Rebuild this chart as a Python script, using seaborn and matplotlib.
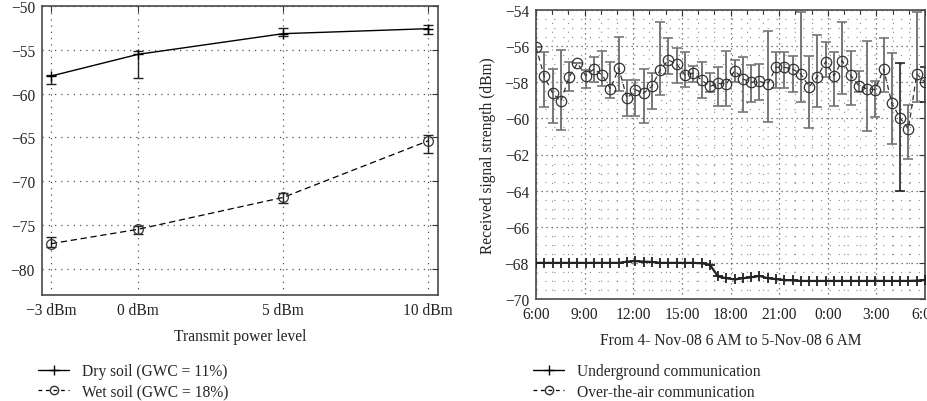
import numpy as np
import pandas as pd
import matplotlib
matplotlib.use("Agg")
import matplotlib.pyplot as plt
import seaborn as sns
from matplotlib.ticker import MultipleLocator
from matplotlib.lines import Line2D

# ---------------- data: left panel ----------------
power = [-3, 0, 5, 10]
power_labels = ["\u22123 dBm", "0 dBm", "5 dBm", "10 dBm"]
dry = [-58.0, -55.52, -53.16, -52.59]
dry_hi = [-57.83, -55.17, -52.47, -52.2]
dry_lo = [-58.86, -58.18, -53.47, -53.16]
wet = [-77.14, -75.5, -71.86, -65.4]
wet_hi = [-76.42, -75.13, -71.4, -64.75]
wet_lo = [-77.48, -76.04, -72.46, -66.84]

# ---------------- data: right panel ----------------
hour_ticks = [0, 3, 6, 9, 12, 15, 18, 21, 24]
hour_labels = ["6:00", "9:00", "12:00", "15:00", "18:00", "21:00", "0:00", "3:00", "6:00"]
n_samples = 48
hours = np.linspace(0, 24, n_samples)  # sample times, hours after 6:00

underground = [-68.0, -68.0, -68.0, -68.0, -68.0, -68.0, -68.0, -68.0, -68.0, -68.0, -68.0,
               -67.93, -67.9, -67.93, -67.95,
               -68.0, -68.0, -68.0, -68.0, -68.0, -68.02,
               -68.1, -68.75, -68.85, -68.92, -68.85, -68.8, -68.72, -68.85, -68.9, -68.95, -68.97,
               -69.0, -69.0, -69.0, -69.0, -69.0, -69.0, -69.0, -69.0,
               -69.0, -69.0, -69.0, -69.0, -69.0, -69.0, -68.98, -68.95]

ota = [-56.07, -57.67, -58.6, -59.06, -57.71, -56.95, -57.63, -57.27, -57.6, -58.37, -57.23, -58.89, -58.41, -58.61, -58.23, -57.31,
       -56.77, -56.99, -57.6, -57.49, -57.88, -58.23, -58.06, -58.1, -57.36, -57.82, -58.0, -57.95, -58.1, -57.17, -57.17, -57.27,
       -57.54, -58.25, -57.69, -56.86, -57.64, -56.8, -57.6, -58.19, -58.37, -58.41, -57.27, -59.17, -59.98, -60.59, -57.54, -58.0]
ota_hi = [-56.07, -56.34, -57.27, -56.2, -56.9, -56.95, -57.32, -56.58, -56.25, -56.86, -55.48, -57.88, -57.88, -57.27, -57.49, -54.64,
          -55.55, -56.1, -56.3, -57.08, -56.86, -57.49, -57.17, -56.25, -56.77, -56.62, -57.05, -56.97, -55.18, -56.34, -56.34, -56.56,
          -54.13, -56.56, -55.38, -55.75, -56.3, -54.65, -56.25, -57.4, -55.73, -57.91, -55.57, -56.38, -56.95, -59.26, -54.13, -57.17]
ota_lo = [-56.07, -59.35, -60.27, -60.63, -58.47, -56.95, -58.34, -57.97, -58.23, -58.86, -58.47, -59.85, -59.85, -60.28, -59.48, -58.68,
          -57.54, -58.06, -58.26, -58.0, -58.86, -58.52, -59.3, -59.3, -57.97, -59.67, -59.08, -59.0, -60.22, -58.34, -58.34, -58.56,
          -59.11, -60.55, -59.39, -57.73, -59.33, -58.65, -59.24, -58.52, -60.72, -59.94, -58.56, -61.42, -64.0, -62.25, -59.11, -59.11]
black_bar_idx = [44, 47]

left_df = pd.DataFrame({"power": power, "dry": dry, "wet": wet})
right_df = pd.DataFrame({"hours": hours, "underground": underground, "ota": ota})

# ---------------- style ----------------
sns.set_theme(style="white")
plt.rcParams['font.family'] = ['Liberation Serif', 'DejaVu Serif']
plt.rcParams['axes.unicode_minus'] = True
FS = 11.2
SPINE = "#4a4a4a"

fig = plt.figure(figsize=(9.27, 4.02), dpi=100)
ax1 = fig.add_axes([42 / 927, 106 / 402, 396 / 927, 289 / 402])
ax2 = fig.add_axes([536 / 927, 102 / 402, 389 / 927, 289 / 402])

for ax in (ax1, ax2):
    for s in ax.spines.values():
        s.set_color(SPINE)
        s.set_linewidth(1.2)
    ax.tick_params(which="both", direction="in", top=True, right=True,
                   colors="#333333", labelcolor="#222222", labelsize=FS, pad=5)
    ax.tick_params(which="major", length=4, width=0.8)
    ax.tick_params(which="minor", length=3, width=0.8)

# ---------------- left panel ----------------
sns.lineplot(data=left_df, x="power", y="dry", ax=ax1, color="black", lw=1.0,
             marker="+", markersize=7, mew=1.0, mec="black", zorder=4)
sns.lineplot(data=left_df, x="power", y="wet", ax=ax1, color="black", lw=0.9,
             linestyle=(0, (5, 3)), marker="o", markersize=7, mfc="none",
             mec="#333333", mew=0.9, zorder=4)
ax1.errorbar(power, dry, yerr=[np.array(dry) - np.array(dry_lo), np.array(dry_hi) - np.array(dry)],
             fmt="none", ecolor="#222222", elinewidth=1.0, capsize=3.5, capthick=1.0, zorder=3)
ax1.errorbar(power, wet, yerr=[np.array(wet) - np.array(wet_lo), np.array(wet_hi) - np.array(wet)],
             fmt="none", ecolor="#222222", elinewidth=1.0, capsize=3.5, capthick=1.0, zorder=3)

ax1.set_xlim(-3.31, 10.34)
ax1.set_ylim(-83, -50)
ax1.set_xticks(power)
ax1.set_xticklabels(power_labels)
ax1.yaxis.set_major_locator(MultipleLocator(5))
ax1.grid(True, which="major", color="#555555", linestyle=(0, (1, 4)), linewidth=0.9)
ax1.set_xlabel("Transmit power level", fontsize=FS, color="#222222", labelpad=7)
ax1.set_ylabel("")

h_dry = Line2D([], [], color="black", lw=1.0, marker="+", markersize=7, mew=1.0)
h_wet = Line2D([], [], color="black", lw=0.9, linestyle=(0, (3, 3)), marker="o",
               markersize=6, mfc="none", mec="#333333")
ax1.legend([h_dry, h_wet], ["Dry soil (GWC = 11%)", "Wet soil (GWC = 18%)"],
           loc="upper left", bbox_to_anchor=(38 / 927, 1 - 364 / 402),
           bbox_transform=fig.transFigure, frameon=False, fontsize=FS,
           handlelength=2.0, handletextpad=0.8, labelspacing=0.3, borderpad=0,
           borderaxespad=0)

# ---------------- right panel ----------------
gray_idx = [i for i in range(n_samples) if i not in black_bar_idx]
o = np.array(ota); hi = np.array(ota_hi); lo = np.array(ota_lo)
ax2.errorbar(hours[gray_idx], o[gray_idx], yerr=[o[gray_idx] - lo[gray_idx], hi[gray_idx] - o[gray_idx]],
             fmt="none", ecolor="#777777", elinewidth=1.4, capsize=3.5, capthick=1.2, zorder=2)
ax2.errorbar(hours[black_bar_idx], o[black_bar_idx],
             yerr=[o[black_bar_idx] - lo[black_bar_idx], hi[black_bar_idx] - o[black_bar_idx]],
             fmt="none", ecolor="#111111", elinewidth=1.1, capsize=3.5, capthick=1.1, zorder=2)
sns.lineplot(data=right_df, x="hours", y="ota", ax=ax2, color="#333333", lw=0.9,
             linestyle=(0, (4, 3)), marker="o", markersize=7.5, mfc="none",
             mec="#333333", mew=0.9, zorder=4)
sns.lineplot(data=right_df, x="hours", y="underground", ax=ax2, color="#222222", lw=1.6,
             marker="+", markersize=7, mew=1.3, mec="#222222", zorder=4)

ax2.set_xlim(0, 24)
ax2.set_ylim(-70, -54)
ax2.set_xticks(hour_ticks)
ax2.set_xticklabels(hour_labels)
ax2.xaxis.set_minor_locator(MultipleLocator(1))
ax2.yaxis.set_major_locator(MultipleLocator(2))
ax2.yaxis.set_minor_locator(MultipleLocator(0.5))
ax2.tick_params(axis="y", which="minor", length=0)
ax2.grid(True, which="major", color="#555555", linestyle=(0, (1, 3)), linewidth=0.9)
ax2.grid(True, which="minor", color="#888888", linestyle=(0, (1, 7)), linewidth=0.8)
ax2.set_xlabel("From 4- Nov-08 6 AM to 5-Nov-08 6 AM", fontsize=FS, color="#222222", labelpad=7)
ax2.set_ylabel("Received signal strength (dBm)", fontsize=FS, color="#222222", labelpad=6)

h_ug = Line2D([], [], color="black", lw=1.0, marker="+", markersize=7, mew=1.0)
h_ota = Line2D([], [], color="black", lw=0.9, linestyle=(0, (3, 3)), marker="o",
               markersize=6, mfc="none", mec="#333333")
ax2.legend([h_ug, h_ota], ["Underground communication", "Over-the-air communication"],
           loc="upper left", bbox_to_anchor=(533 / 927, 1 - 364 / 402),
           bbox_transform=fig.transFigure, frameon=False, fontsize=FS,
           handlelength=2.0, handletextpad=0.8, labelspacing=0.3, borderpad=0,
           borderaxespad=0)

fig.savefig("out.png", dpi=100)
